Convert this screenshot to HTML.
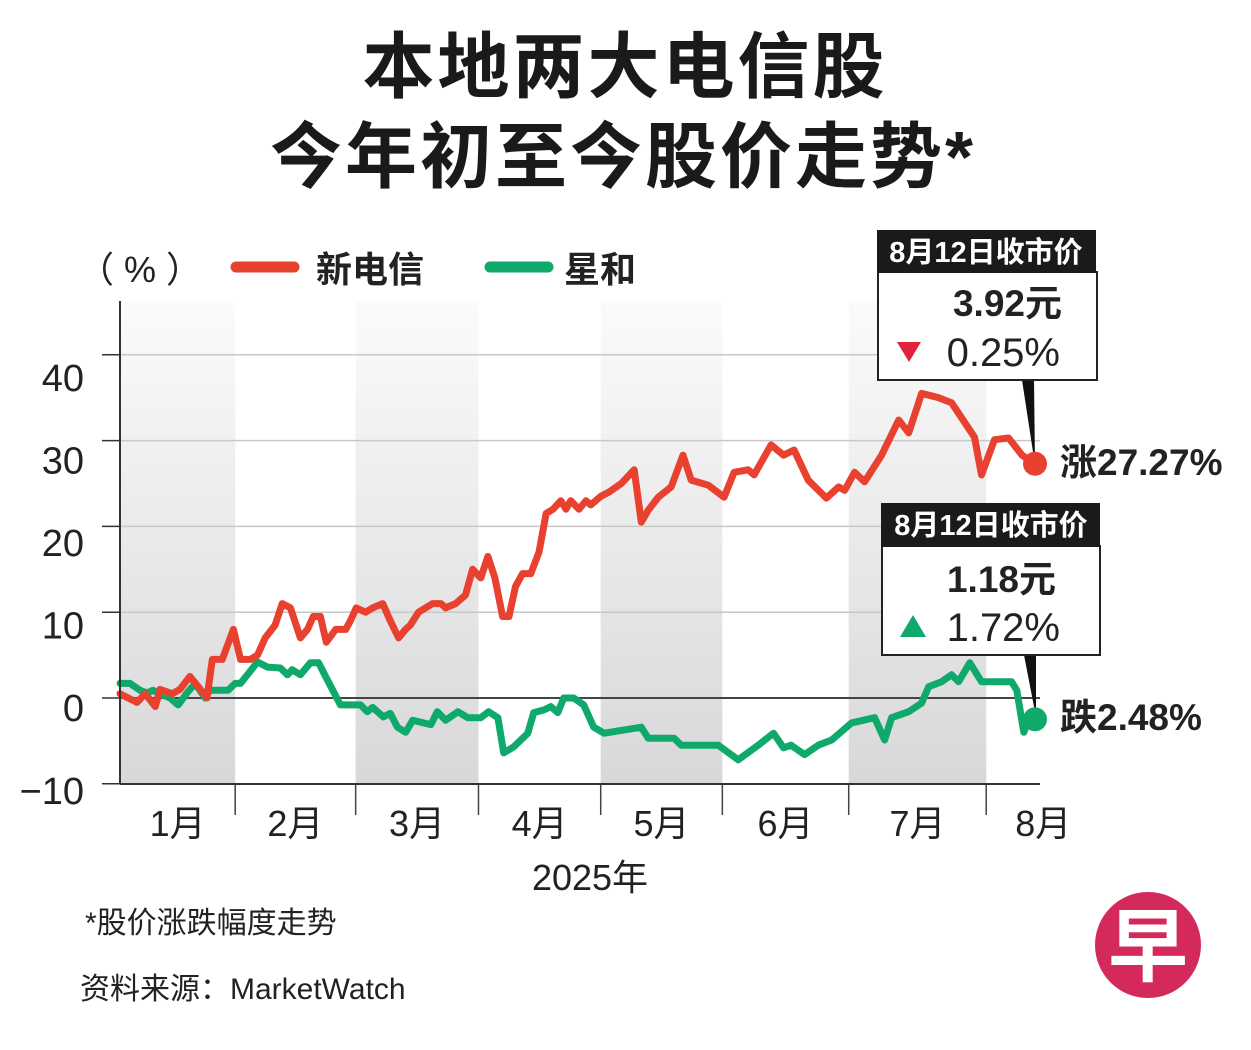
<!DOCTYPE html>
<html><head><meta charset="utf-8">
<style>
body{margin:0;width:1251px;height:1050px;background:#fff;overflow:hidden}
svg{display:block}
text{font-family:"Liberation Sans","Noto Sans CJK SC",sans-serif}
</style></head>
<body>
<svg id="chart" width="1251" height="1050" viewBox="0 0 1251 1050">
<defs>
<linearGradient id="band" x1="0" y1="0" x2="0" y2="1">
<stop offset="0" stop-color="#fbfbfb"/><stop offset="1" stop-color="#d8d8da"/>
</linearGradient>
</defs>
<text x="625" y="92" text-anchor="middle" font-size="72" font-weight="bold" letter-spacing="3" fill="#1a1a1a">本地两大电信股</text>
<text x="623" y="182" text-anchor="middle" font-size="72" font-weight="bold" letter-spacing="3" fill="#1a1a1a">今年初至今股价走势*</text>
<text x="78" y="282" font-size="36" fill="#222">（ % ）</text>
<g>
<line x1="236" y1="267" x2="294" y2="267" stroke="#e8412f" stroke-width="11" stroke-linecap="round"/>
<text x="316" y="282" font-size="36" font-weight="bold" fill="#222">新电信</text>
</g>
<g>
<line x1="490" y1="267" x2="548" y2="267" stroke="#0fa96b" stroke-width="11" stroke-linecap="round"/>
<text x="564" y="282" font-size="36" font-weight="bold" fill="#222">星和</text>
</g>
<g id="bands"></g>
<g id="grid"></g>
<g id="series"></g>
<g id="axes"></g>

<g>
<polygon points="1022,380 1034,380 1035,465" fill="#111"/>
<rect x="878" y="272" width="219" height="108" fill="#fff" stroke="#222" stroke-width="2"/>
<rect x="877" y="230" width="219" height="43" fill="#1a1a1a"/>
<text x="986" y="262" text-anchor="middle" font-size="29" font-weight="bold" fill="#fff">8月12日收市价</text>
<text x="1062" y="316" text-anchor="end" font-size="37" font-weight="bold" fill="#222">3.92元</text>
<polygon points="897,342 921,342 909,362" fill="#e0223a"/>
<text x="1060" y="366" text-anchor="end" font-size="40" fill="#222">0.25%</text>
</g>
<g>
<polygon points="1024,655 1036,655 1036,717" fill="#111"/>
<rect x="882" y="546" width="218" height="109" fill="#fff" stroke="#222" stroke-width="2"/>
<rect x="881" y="503" width="219" height="44" fill="#1a1a1a"/>
<text x="991" y="535" text-anchor="middle" font-size="29" font-weight="bold" fill="#fff">8月12日收市价</text>
<text x="1056" y="592" text-anchor="end" font-size="37" font-weight="bold" fill="#222">1.18元</text>
<polygon points="900,637 926,637 913,615" fill="#0fa96b"/>
<text x="1060" y="641" text-anchor="end" font-size="40" fill="#222">1.72%</text>
</g>
<g id="ends"></g>
<text x="1060" y="475" font-size="37" font-weight="bold" fill="#222">涨27.27%</text>
<text x="1060" y="730" font-size="37" font-weight="bold" fill="#222">跌2.48%</text>

<text x="590" y="890" text-anchor="middle" font-size="36" fill="#222">2025年</text>
<text x="85" y="933" font-size="30" fill="#222">*股价涨跌幅度走势</text>
<text x="80" y="999" font-size="30" fill="#222">资料来源：MarketWatch</text>
<g>
<circle cx="1148" cy="945" r="53" fill="#d42a5b"/>
<text x="1148" y="975" text-anchor="middle" font-size="80" font-weight="bold" fill="#fff">早</text>
</g>
</svg>
<script>
// trading-day index (0 = Jan 2, 156 = Aug 12) and % change
const redDays=[0,1.4,2.9,4.3,6,6.8,8.9,10.2,11.9,13.1,14.8,15.7,17.4,19.3,20.5,22.2,23.4,24.7,26.4,27.6,29,30.7,31.9,32.9,34.1,35.1,36.7,38.4,39.2,40.2,41.8,43,44.7,46,47.4,48.6,49.4,50.8,52,53.2,54.6,55.4,57.1,58.8,60,61.4,62.6,63.8,65.1,66.2,67.3,68.5,69.9,71.3,72.5,73.7,75,75.9,76.7,78.1,79.3,80.1,81.8,83.2,85.3,87.5,88.7,89.9,91.6,93.8,95.8,97.2,100.1,102.8,104.5,106.9,107.9,110.8,112.9,114.7,117.1,120.2,122.3,123.3,125,126.7,129.6,132.5,134.2,136.4,139.3,141.5,145.4,146.6,148.8,151.2,153.5,155.7];
const redVals=[0.5,0,-0.5,0.5,-1,1,0.5,1,2.5,1.5,0,4.5,4.5,8,4.5,4.5,5,7,8.5,11,10.5,7,8,9.5,9.5,6.5,8,8,9,10.5,10,10.5,11,9,7,8,8.5,10,10.5,11,11,10.5,11,12,15,14,16.5,14,9.5,9.5,13,14.5,14.5,17,21.5,22,23,22,23,22,23,22.5,23.5,24,25,26.6,20.5,21.9,23.4,24.6,28.3,25.4,24.8,23.4,26.3,26.6,26,29.5,28.3,28.9,25.4,23.3,24.6,24.2,26.3,25.2,28.3,32.4,30.9,35.5,35,34.4,30.4,26,30.1,30.3,28.3,27.3];
const greenDays=[0,1.7,3.4,4.6,5.6,8.5,9.9,11.4,12.8,14.5,15.3,18.4,19.6,20.5,23.4,25.1,27.3,28.5,29.3,30.7,32.4,33.8,35.3,37.5,40.9,42.1,43,44.8,46,47.2,48.6,49.8,52.9,54,55.4,57.5,59.2,61.4,62.7,64.3,65.3,67,69.4,70.4,72.1,73.3,74.5,75.5,77.2,78.9,80.6,82.4,88.7,89.9,94.3,95.5,101.8,105.2,108.6,111.2,112.9,114.2,116.5,118.8,121.1,124.5,128.4,130.1,131.3,134.2,136.4,137.6,139.8,141.5,142.7,144.6,146.6,151.7,152.6,153.8,154.6,155.7];
const greenVals=[1.7,1.7,0.9,0.6,0.9,0,-0.8,0.6,1.7,0,0.9,0.9,1.7,1.7,4.2,3.6,3.5,2.7,3.3,2.7,4.1,4.1,2.1,-0.8,-0.8,-1.6,-1.1,-2.2,-1.8,-3.4,-4,-2.6,-3.1,-1.6,-2.6,-1.6,-2.3,-2.3,-1.6,-2.3,-6.4,-5.7,-4.1,-1.7,-1.4,-1,-1.7,0,0,-0.8,-3.4,-4.1,-3.4,-4.7,-4.7,-5.5,-5.5,-7.2,-5.5,-4.1,-5.8,-5.5,-6.6,-5.5,-4.9,-2.9,-2.3,-4.9,-2.3,-1.6,-0.6,1.3,1.9,2.7,1.9,4.1,1.9,1.9,0.9,-4,-2.6,-2.48];
const yTicks=[40,30,20,10,0,-10];
const yTickLabels=["40","30","20","10","0","\u221210"];
const months=["1月","2月","3月","4月","5月","6月","7月","8月"];
const monthStarts=[0,19.6,40.1,61,81.8,102.5,124,147.4];

const NS="http://www.w3.org/2000/svg";
const X0=120,X1=1035,DMAX=155.7;
const xs=d=>X0+d*(X1-X0)/DMAX;
const ys=v=>698-v*8.58;
const plotTop=301,plotBot=784,plotRight=1040;
function mk(tag,attrs,parent){const e=document.createElementNS(NS,tag);for(const k in attrs)e.setAttribute(k,attrs[k]);parent.appendChild(e);return e;}
const bands=document.getElementById('bands'),grid=document.getElementById('grid'),series=document.getElementById('series'),axes=document.getElementById('axes'),ends=document.getElementById('ends');
const bounds=monthStarts.map(xs).concat([plotRight]);
months.forEach((m,i)=>{
  if(i%2===0){const r=mk('rect',{x:bounds[i],y:plotTop,width:bounds[i+1]-bounds[i],height:plotBot-plotTop,fill:'url(#band)'},bands);
  
  }
  const cx=i===months.length-1?bounds[i]+57:(bounds[i]+bounds[i+1])/2;
  const t=mk('text',{x:cx,y:836,'text-anchor':'middle','font-size':36,fill:'#222'},axes);
  t.textContent=m;
  
  
  if(i>0){const tk=mk('line',{x1:bounds[i],x2:bounds[i],y1:plotBot,y2:815,stroke:'#444','stroke-width':1.5},axes);
  
  }
});
yTicks.forEach((v,i)=>{
  const y=ys(v);
  if(v!==0&&v!==-10){const g=mk('line',{x1:X0,x2:plotRight,y1:y,y2:y,stroke:'#c8c8c8','stroke-width':1.5},grid);
  
  }
  const tk=mk('line',{x1:102,x2:X0,y1:y,y2:y,stroke:'#333','stroke-width':1.5},axes);
  
  
  const t=mk('text',{x:84,y:y+20+(v+10)*0.32,'text-anchor':'end','font-size':38,fill:'#222'},axes);
  t.textContent=yTickLabels[i];
  
  
});
const zl=mk('line',{x1:X0,x2:plotRight,y1:ys(0),y2:ys(0),stroke:'#444','stroke-width':2},grid);


const ya=mk('line',{x1:X0,x2:X0,y1:plotTop,y2:plotBot,stroke:'#333','stroke-width':2},axes);


const xa=mk('line',{x1:X0,x2:plotRight,y1:plotBot,y2:plotBot,stroke:'#333','stroke-width':2},axes);


function line(days,vals,color,name){
  const p=mk('polyline',{points:days.map((d,i)=>xs(d).toFixed(1)+','+ys(vals[i]).toFixed(1)).join(' '),fill:'none',stroke:color,'stroke-width':7,'stroke-linejoin':'round','stroke-linecap':'round'},series);
  
  
  const c=mk('circle',{cx:xs(days[days.length-1]),cy:ys(vals[vals.length-1]),r:12,fill:color},ends);
  
  
}
line(greenDays,greenVals,'#0fa96b','starhub');
line(redDays,redVals,'#e8412f','singtel');
</script>
</body></html>
